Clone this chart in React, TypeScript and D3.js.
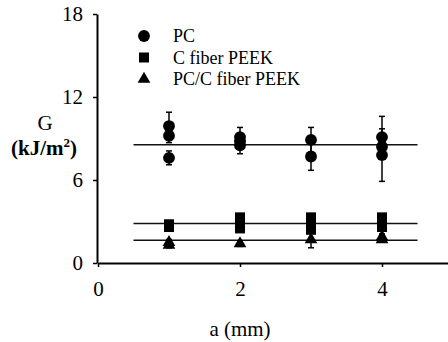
import { useEffect, useRef } from "react";
import * as d3 from "d3";

// G (kJ/m^2) vs a (mm); each point carries its own error bar half-width
const pcPoints = [
  { a: 1, g: 9.9, e: 1.0 },
  { a: 1, g: 9.2, e: 0.5 },
  { a: 1, g: 7.6, e: 0.5 },
  { a: 2, g: 9.1, e: 0.7 },
  { a: 2, g: 8.8, e: 0.5 },
  { a: 2, g: 8.5, e: 0.6 },
  { a: 3, g: 8.9, e: 0.9 },
  { a: 3, g: 7.7, e: 1.0 },
  { a: 4, g: 9.1, e: 1.5 },
  { a: 4, g: 8.4, e: 0.5 },
  { a: 4, g: 7.8, e: 1.9 },
];

const peekPoints = [
  { a: 1, g: 2.8, e: 0.2 },
  { a: 1, g: 2.6, e: 0.2 },
  { a: 2, g: 3.3, e: 0.2 },
  { a: 2, g: 2.9, e: 0.2 },
  { a: 2, g: 2.5, e: 0.2 },
  { a: 3, g: 3.3, e: 0.2 },
  { a: 3, g: 2.8, e: 0.2 },
  { a: 3, g: 2.4, e: 0.2 },
  { a: 4, g: 3.3, e: 0.2 },
  { a: 4, g: 2.9, e: 0.2 },
  { a: 4, g: 2.6, e: 0.2 },
];

const hybridPoints = [
  { a: 1, g: 1.5, e: 0.2 },
  { a: 1, g: 1.3, e: 0.2 },
  { a: 2, g: 1.4, e: 0.2 },
  { a: 3, g: 1.7, e: 0.6 },
  { a: 4, g: 1.9, e: 0.2 },
  { a: 4, g: 1.7, e: 0.2 },
];

// horizontal mean lines
const meanLines = [8.55, 2.85, 1.65];
const meanRange = [0.5, 4.5];

const xTicks = [0, 2, 4];
const yTicks = [0, 6, 12, 18];
const legendLabels = ["PC", "C fiber PEEK", "PC/C fiber PEEK"];

const FONT = "'Liberation Serif', 'Times New Roman', serif";

export default function App() {
  const svgRef = useRef<SVGSVGElement>(null);

  useEffect(() => {
    if (!svgRef.current) return;
    const width = 448;
    const height = 342;
    const svg = d3.select(svgRef.current).attr("width", width).attr("height", height);
    svg.selectAll("*").remove();

    const x = d3.scaleLinear().domain([0, 5]).range([98, 453]);
    const y = d3.scaleLinear().domain([0, 18]).range([263, 14]);

    // mean lines
    svg
      .selectAll(".mean")
      .data(meanLines)
      .join("line")
      .attr("x1", x(meanRange[0]))
      .attr("x2", x(meanRange[1]))
      .attr("y1", (d) => y(d))
      .attr("y2", (d) => y(d))
      .attr("stroke", "#111")
      .attr("stroke-width", 1.5);

    const series = [
      { pts: pcPoints, sym: d3.symbolCircle, size: 110 },
      { pts: peekPoints, sym: d3.symbolSquare, size: 100 },
      { pts: hybridPoints, sym: d3.symbolTriangle, size: 70 },
    ];

    for (const s of series) {
      const eb = svg.append("g");
      for (const p of s.pts) {
        const cx = x(p.a);
        eb.append("line")
          .attr("x1", cx).attr("x2", cx)
          .attr("y1", y(p.g - p.e)).attr("y2", y(p.g + p.e))
          .attr("stroke", "#000").attr("stroke-width", 1.5);
        for (const v of [p.g - p.e, p.g + p.e]) {
          eb.append("line")
            .attr("x1", cx - 3).attr("x2", cx + 3)
            .attr("y1", y(v)).attr("y2", y(v))
            .attr("stroke", "#000").attr("stroke-width", 1.5);
        }
      }
      svg
        .append("g")
        .selectAll("path")
        .data(s.pts)
        .join("path")
        .attr("d", d3.symbol().type(s.sym).size(s.size)())
        .attr("transform", (p) => `translate(${x(p.a)},${y(p.g)})`)
        .attr("fill", "#000");
    }

    // axes
    const yAxis = svg
      .append("g")
      .attr("transform", `translate(${x(0) - 1},0)`)
      .call(d3.axisLeft(y).tickValues(yTicks).tickSize(4).tickSizeOuter(0).tickPadding(10).tickFormat(d3.format("d")));
    const xAxis = svg
      .append("g")
      .attr("transform", `translate(0,${y(0)})`)
      .call(d3.axisBottom(x).tickValues(xTicks).tickSize(4).tickSizeOuter(0).tickPadding(14).tickFormat(d3.format("d")));

    for (const ax of [xAxis, yAxis]) {
      ax.select(".domain").attr("stroke", "#000").attr("stroke-width", 2);
      ax.selectAll(".tick line").attr("stroke", "#000").attr("stroke-width", 1.5);
      ax.selectAll("text")
        .attr("font-family", FONT)
        .attr("font-size", 21)
        .attr("fill", "#000");
    }

    // axis titles
    svg.append("text")
      .attr("x", 240).attr("y", 336)
      .attr("text-anchor", "middle")
      .attr("font-family", FONT).attr("font-size", 21)
      .text("a (mm)");

    svg.append("text")
      .attr("x", 45).attr("y", 130)
      .attr("text-anchor", "middle")
      .attr("font-family", FONT).attr("font-size", 21)
      .text("G");

    const unit = svg.append("text")
      .attr("x", 44).attr("y", 155)
      .attr("text-anchor", "middle")
      .attr("font-family", FONT).attr("font-size", 21)
      .attr("font-weight", "bold");
    unit.append("tspan").text("(kJ/m");
    unit.append("tspan").attr("dy", -8).attr("font-size", 13).text("2");
    unit.append("tspan").attr("dy", 8).text(")");

    // legend
    const legend = svg.append("g");
    legendLabels.forEach((label, i) => {
      const ly = 36 + i * 21.5;
      legend.append("path")
        .attr("d", d3.symbol().type(series[i].sym).size(series[i].size)())
        .attr("transform", `translate(144,${ly})`)
        .attr("fill", "#000");
      legend.append("text")
        .attr("x", 173).attr("y", ly + 6)
        .attr("font-family", FONT).attr("font-size", 18)
        .text(label);
    });
  }, []);

  return (
    <div style={{ position: "fixed", left: 0, top: 0, background: "#fff" }}>
      <svg ref={svgRef} style={{ display: "block" }} />
    </div>
  );
}
